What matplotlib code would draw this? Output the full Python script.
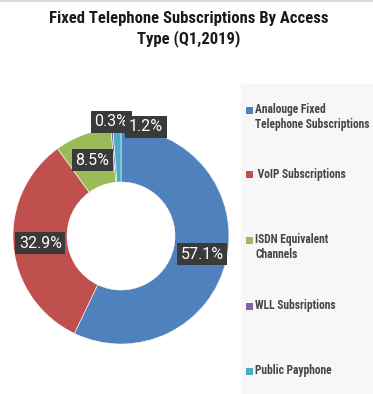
import matplotlib
matplotlib.use("Agg")
import numpy as np
import matplotlib.pyplot as plt
from matplotlib.patches import Rectangle

# Data
categories = ["Analouge Fixed\nTelephone Subscriptions", " VoIP Subscriptions",
              "ISDN Equivalent\nChannels", "WLL Subsriptions", "Public Payphone"]
shares = [57.1, 32.9, 8.5, 0.3, 1.2]
colors = ["#4f81bd", "#c0504d", "#9bbb59", "#8064a2", "#4bacc6"]

# label layout (radius as fraction of outer radius, extra x shift)
label_r = [0.77, 0.75, 0.75, 1.06, 1.01]
label_dx = [0.0, 0.0, 0.0, 0.0, 0.27]
legend_y = [117, 175, 247, 306, 371]  # px from top

FONT = ["Roboto Condensed", "Roboto", "DejaVu Sans"]
plt.rcParams["font.family"] = FONT

W, H = 373, 394
fig = plt.figure(figsize=(W / 100, H / 100), dpi=100)
fig.patch.set_facecolor("white")

# legend panel background
fig.add_artist(Rectangle((241 / W, 0), 1 - 241 / W, 1 - 84 / H, transform=fig.transFigure,
                         facecolor="#f7f7f7", edgecolor="none", zorder=0))
# top border line
fig.add_artist(Rectangle((0, 1 - 2 / H), 1, 2 / H, transform=fig.transFigure,
                         facecolor="#d9d9d9", edgecolor="none"))

fig.text(189 / W, 1 - 29 / H, "Fixed Telephone Subscriptions By Access\nType (Q1,2019)",
         ha="center", va="center", fontsize=12, fontweight="bold", color="#1a1a1a",
         linespacing=1.25)

cx, cy, R = 121, 236, 108
ax = fig.add_axes([(cx - R) / W, (H - cy - R) / H, 2 * R / W, 2 * R / H])
wedges, _ = ax.pie(shares, colors=colors, startangle=90, counterclock=False, radius=1,
                   wedgeprops=dict(width=0.5, edgecolor="white", linewidth=0.4))
ax.set_xlim(-1, 1)
ax.set_ylim(-1, 1)
ax.set_aspect("equal")
ax.axis("off")

for w, val, r, dx in zip(wedges, shares, label_r, label_dx):
    ang = np.deg2rad((w.theta1 + w.theta2) / 2)
    ax.text(r * np.cos(ang) + dx, r * np.sin(ang), f"{val}%", ha="center", va="center",
            fontsize=11.5, color="white", zorder=5, family=["Roboto", "DejaVu Sans"],
            bbox=dict(boxstyle="square,pad=0.22", facecolor="#3a3a3a", edgecolor="none"))

for lab, col, y in zip(categories, colors, legend_y):
    first_line_y = y - (7 if "\n" in lab else 0)
    fig.add_artist(Rectangle((246 / W, 1 - (first_line_y + 3.5) / H), 7 / W, 7 / H,
                             transform=fig.transFigure, facecolor=col, edgecolor="none"))
    fig.text(255 / W, 1 - (first_line_y - 7) / H, lab, ha="left", va="top",
             fontsize=8.3, fontweight="bold", color="#454545", linespacing=1.2)

fig.savefig("out.png", dpi=100)
